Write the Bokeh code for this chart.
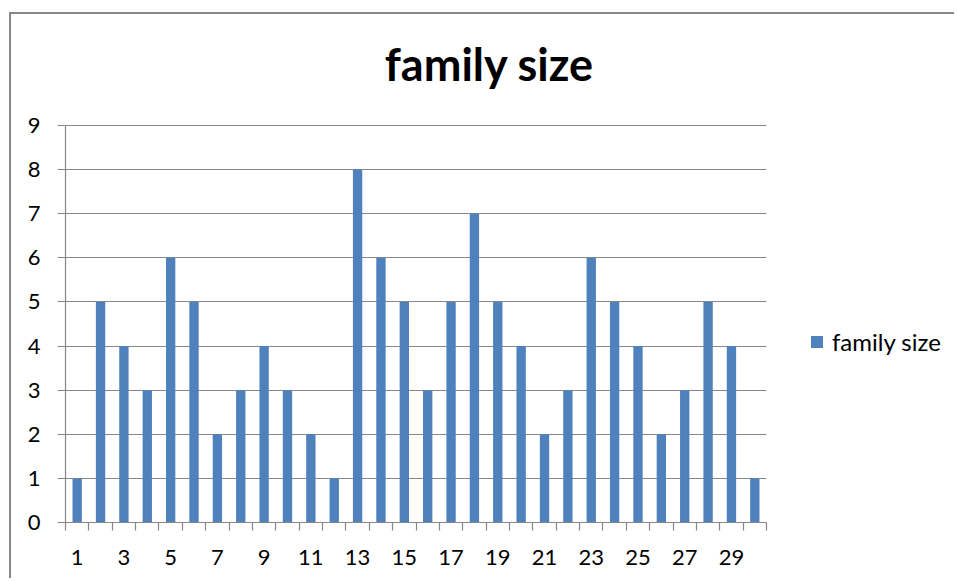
from bokeh.plotting import figure
from bokeh.models import FixedTicker, Legend, LegendItem, ColumnDataSource, Range1d, Label
from bokeh.embed import file_html
from bokeh.resources import INLINE

# ---- data ----
categories = list(range(1, 31))
family_size = [1, 5, 4, 3, 6, 5, 2, 3, 4, 3, 2, 1, 8, 6, 5, 3, 5, 7, 5, 4, 2, 3, 6, 5, 4, 2, 3, 5, 4, 1]
x_tick_labels = list(range(1, 30, 2))
y_ticks = list(range(0, 10))
series_name = "family size"
chart_title = "family size"

BAR = "#4F81BD"
GRAY = "#878787"
FONT = "Lato"

# the category axis spans [0.5, 30.5] and the value axis [0, 9]; the frame covers the
# whole chart area so title, legend and axis labels all sit inside it
X_LO, X_HI = 0.5, 30.5
Y_LO, Y_HI = 0, 9
X_VIEW = (-1.811, 38.631)
Y_VIEW = (-1.315, 11.516)

W, H = 945, 566
p = figure(width=W, height=H, output_backend="svg", toolbar_location=None,
           x_range=Range1d(*X_VIEW), y_range=Range1d(*Y_VIEW),
           min_border_left=0, min_border_right=0, min_border_top=0, min_border_bottom=0)
p.styles = {"margin-left": "9px", "margin-top": "12px",
            "border-left": f"2px solid {GRAY}", "border-top": f"2px solid {GRAY}"}
p.outline_line_color = None
p.background_fill_color = "white"
p.border_fill_color = "white"

src = ColumnDataSource(dict(x=categories, top=family_size))
r = p.vbar(x="x", top="top", width=0.4, source=src, fill_color=BAR, line_color=None)

# grid
p.xgrid.visible = False
p.ygrid.ticker = FixedTicker(ticks=y_ticks)
p.ygrid.grid_line_color = GRAY
p.ygrid.grid_line_width = 1.2
p.ygrid.bounds = (Y_LO, Y_HI)
p.ygrid.cross_bounds = (X_LO, X_HI)

# x axis, pinned at value 0
xa = p.xaxis[0]
xa.fixed_location = Y_LO
xa.bounds = (X_LO, X_HI)
xa.ticker = FixedTicker(ticks=x_tick_labels, minor_ticks=[c - 0.5 for c in categories] + [categories[-1] + 0.5])
xa.axis_line_color = GRAY
xa.axis_line_width = 1.2
xa.major_tick_out = 0
xa.major_tick_in = 0
xa.minor_tick_out = 8
xa.minor_tick_in = 0
xa.minor_tick_line_color = GRAY
xa.minor_tick_line_width = 1.2
xa.major_label_text_font = FONT
xa.major_label_text_font_size = "22px"
xa.major_label_text_color = "black"
xa.major_label_standoff = 20

# y axis, pinned at the start of the category axis
ya = p.yaxis[0]
ya.fixed_location = X_LO
ya.bounds = (Y_LO, Y_HI)
ya.ticker = FixedTicker(ticks=y_ticks)
ya.axis_line_color = GRAY
ya.axis_line_width = 1.2
ya.major_tick_out = 8
ya.major_tick_in = 0
ya.major_tick_line_color = GRAY
ya.major_tick_line_width = 1.2
ya.minor_tick_line_color = None
ya.major_label_text_font = FONT
ya.major_label_text_font_size = "22px"
ya.major_label_text_color = "black"
ya.major_label_standoff = 17

# title
p.add_layout(Label(x=478, y=517, x_units="screen", y_units="screen", text=chart_title,
                   text_align="center", text_baseline="alphabetic",
                   text_font=FONT, text_font_style="bold", text_font_size="45px",
                   text_color="black"))

# legend
legend = Legend(items=[LegendItem(label=series_name, renderers=[r])],
                location=(798, 224), margin=0, padding=0,
                glyph_width=15, glyph_height=15, label_standoff=8,
                label_text_font=FONT, label_text_font_size="24px",
                label_text_color="black",
                border_line_color=None, background_fill_alpha=0)
p.add_layout(legend, "center")

open("out.html", "w").write(file_html(p, INLINE))
